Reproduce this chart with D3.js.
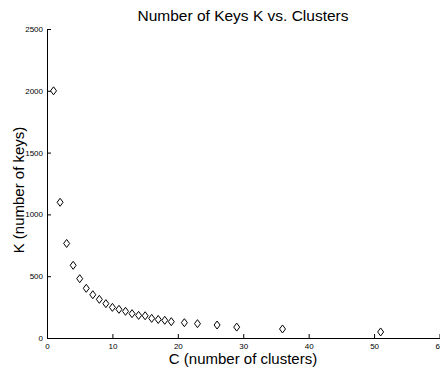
<!DOCTYPE html>
<html><head><meta charset="utf-8">
<script src="https://cdn.jsdelivr.net/npm/d3@7"></script>
<style>body{margin:0;background:#fff}svg{display:block}</style>
</head><body>
<script>
const clusters = [1,2,3,4,5,6,7,8,9,10,11,12,13,14,15,16,17,18,19,21,23,26,29,36,51];
const keys = [2000,1098,765,588,480,402,350,313,278,248,232,216,197,183,180,159,150,143,132,124,116,105,88,73,49];
const xTicks = [0,10,20,30,40,50,60];
const yTicks = [0,500,1000,1500,2000,2500];
const title = "Number of Keys K vs. Clusters";
const xLabel = "C (number of clusters)";
const yLabel = "K (number of keys)";

const W = 440, H = 367;
const svg = d3.select("body").append("svg").attr("width", W).attr("height", H);
const x = d3.scaleLinear().domain([0,60]).range([47,439.5]);
const y = d3.scaleLinear().domain([0,2500]).range([338,29]);
const font = "Liberation Sans, Arial, Helvetica, sans-serif";
const fmt = d3.format("d");

const gx = svg.append("g").attr("transform", `translate(0,${y(0)})`)
  .call(d3.axisBottom(x).tickValues(xTicks).tickFormat(fmt).tickSizeInner(-4).tickSizeOuter(0).tickPadding(5));
const gy = svg.append("g").attr("transform", `translate(${x(0)},0)`)
  .call(d3.axisLeft(y).tickValues(yTicks).tickFormat(fmt).tickSizeInner(-4).tickSizeOuter(0).tickPadding(4));
[gx, gy].forEach(g => {
  g.select(".domain").attr("stroke", "#000").attr("stroke-width", 1);
  g.selectAll(".tick line").attr("stroke", "#000");
  g.selectAll(".tick text").attr("font-family", font).attr("font-size", 8).attr("fill", "#000");
});

const diamond = "M0,-4L3,0L0,4L-3,0Z";
svg.append("g").selectAll("path").data(clusters).join("path")
  .attr("d", diamond)
  .attr("transform", (d,i) => `translate(${x(d)},${y(keys[i])})`)
  .attr("fill", "none").attr("stroke", "#000").attr("stroke-width", 1);

svg.append("text").attr("x", 243).attr("y", 21).attr("text-anchor", "middle")
  .attr("font-family", font).attr("font-size", 15.5).text(title);
svg.append("text").attr("x", 243).attr("y", 364).attr("text-anchor", "middle")
  .attr("font-family", font).attr("font-size", 15).text(xLabel);
svg.append("text").attr("transform", `translate(24,190) rotate(-90)`).attr("text-anchor", "middle")
  .attr("font-family", font).attr("font-size", 15).text(yLabel);
</script>
</body></html>
